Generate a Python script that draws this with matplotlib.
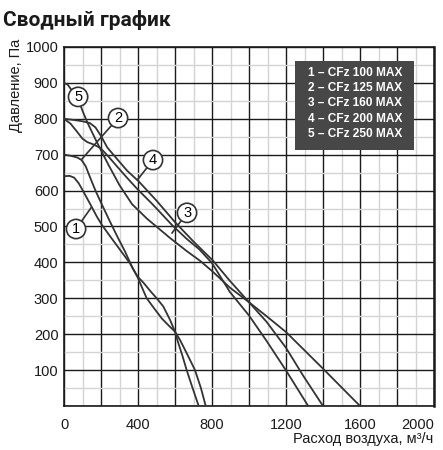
import numpy as np
import matplotlib.pyplot as plt
from matplotlib.patches import Rectangle

plt.rcParams['font.family'] = ['Liberation Sans', 'DejaVu Sans']

# curve points (air flow m3/h, pressure Pa)
q1 = [0, 30, 55, 80, 105, 140, 177, 204, 250, 303, 357, 395, 430, 470, 501, 537, 573, 600, 615, 640, 663, 695, 728]
p1 = [640, 641, 636, 620, 597, 564, 528, 505, 472, 435, 397, 362, 343, 318, 300, 277, 240, 207, 180, 140, 100, 50, 0]

q2 = [0, 36, 72, 95, 117, 140, 170, 204, 250, 290, 330, 370, 395, 420, 447, 490, 530, 570, 600, 627, 670, 708, 740, 766]
p2 = [700, 697, 692, 685, 668, 638, 600, 562, 512, 470, 430, 385, 362, 332, 300, 270, 243, 222, 207, 184, 140, 100, 50, 0]

q3 = [0, 36, 72, 99, 126, 162, 198, 240, 287, 340, 395, 484, 582, 662, 730, 800, 896, 1000, 1094, 1200, 1320]
p3 = [800, 786, 763, 745, 735, 728, 718, 695, 667, 636, 605, 559, 505, 466, 437, 398, 318, 252, 182, 99, 0]

q4 = [0, 50, 100, 140, 170, 200, 234, 290, 342, 405, 500, 600, 700, 805, 896, 1000, 1094, 1200, 1292, 1400]
p4 = [800, 797, 793, 788, 776, 752, 720, 686, 655, 625, 572, 512, 458, 405, 349, 289, 235, 162, 85, 0]

q5 = [0, 20, 45, 81, 100, 126, 168, 204, 240, 300, 368, 448, 573, 662, 734, 800, 896, 1000, 1100, 1200, 1300, 1400, 1500, 1600]
p5 = [900, 895, 877, 849, 822, 790, 745, 708, 672, 615, 562, 522, 468, 432, 405, 376, 330, 289, 248, 206, 155, 104, 52, 0]

curves = [(q1, p1), (q2, p2), (q3, p3), (q4, p4), (q5, p5)]

# curve labels: number, circle position, leader end (None = sits on curve)
labelNums = ['1', '2', '3', '4', '5']
labelPos = [(65, 493), (292, 802), (665, 538), (481, 685), (76, 861)]
leaderEnd = [(146, 552), (97, 688), (584, 482), (400, 632), None]

legendLines = ['1 – CFz 100 MAX', '2 – CFz 125 MAX', '3 – CFz 160 MAX',
               '4 – CFz 200 MAX', '5 – CFz 250 MAX']

xTicks = np.arange(0, 2001, 200)
yTicks = np.arange(0, 1001, 100)

fig = plt.figure(figsize=(4.43, 4.5), dpi=100)
ax = fig.add_axes([0.1445, 0.0978, 0.8352, 0.7978])
ax.set_xlim(0, 2000)
ax.set_ylim(0, 1000)

ax.set_xticks(xTicks)
ax.set_xticklabels([str(v) if v % 400 == 0 else '' for v in xTicks])
ax.set_yticks(yTicks)
ax.set_yticklabels([str(v) if v > 0 else '' for v in yTicks])
ax.set_xticks(np.arange(0, 2001, 100), minor=True)
ax.set_yticks(np.arange(0, 1001, 50), minor=True)
ax.tick_params(which='both', length=0)
ax.tick_params(axis='x', pad=9, labelsize=10.5, colors='#1a1a1a')
ax.tick_params(axis='y', pad=4, labelsize=10.5, colors='#1a1a1a')
# last x label sits inside the frame like in the original
ax.get_xticklabels()[-1].set_horizontalalignment('right')

ax.grid(which='minor', color='#d4d4d4', linewidth=1.0)
ax.grid(which='major', color='#1a1a1a', linewidth=1.0)
ax.set_axisbelow(True)
for s in ax.spines.values():
    s.set_color('#1a1a1a')
    s.set_linewidth(1.2)
ax.spines['right'].set_linewidth(1.8)

for q, p in curves:
    ax.plot(q, p, color='#333333', linewidth=1.3, zorder=3)

for num, pos, end in zip(labelNums, labelPos, leaderEnd):
    if end is not None:
        ax.plot([pos[0], end[0]], [pos[1], end[1]], color='#333333', linewidth=1.2, zorder=4)
    ax.text(pos[0], pos[1], num, ha='center', va='center', fontsize=10.5, zorder=5,
            bbox=dict(boxstyle='circle,pad=0.18', fc='white', ec='#333333', lw=1.2))

ax.add_patch(Rectangle((1249, 713), 643, 248, facecolor='#474747', edgecolor='none', zorder=6))
for i, t in enumerate(legendLines):
    ax.text(1319, 928 - i * 42.7, t, color='white', fontsize=8.6, fontweight='bold',
            ha='left', va='center', zorder=7)

fig.text(0.006, 0.955, 'Сводный график', fontsize=15, fontweight='bold',
         family=['Roboto', 'DejaVu Sans'], ha='left', va='center', color='#1a1a1a')
fig.text(0.035, 0.81, 'Давление, Па', rotation=90, fontsize=10.5, ha='center', va='center', color='#1a1a1a')
fig.text(0.979, 0.024, 'Расход воздуха, м³/ч', fontsize=10.5, ha='right', va='center', color='#1a1a1a')

fig.savefig('out.png', dpi=100)
